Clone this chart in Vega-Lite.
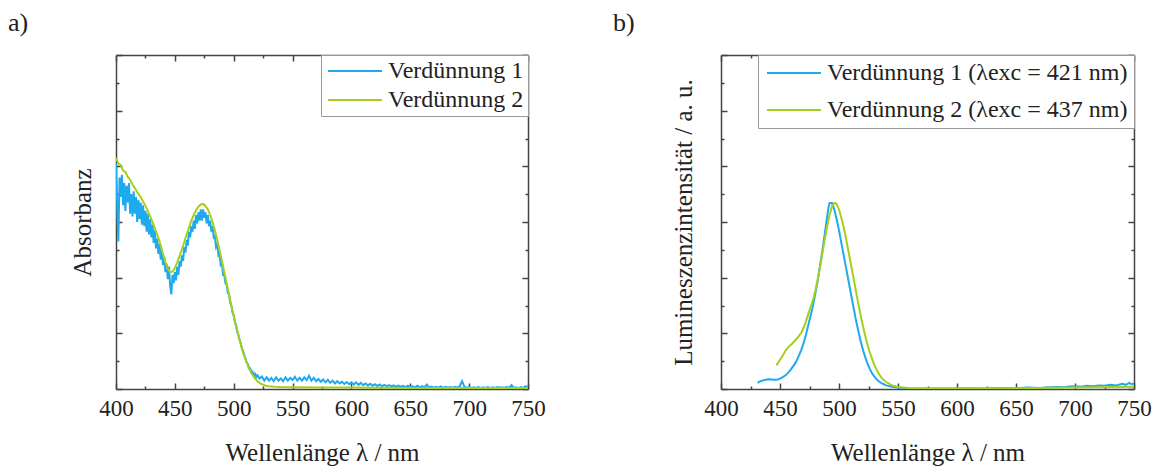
{
"$schema": "https://vega.github.io/schema/vega-lite/v6.json",
"background": "white",
"padding": {"left": 8, "top": 10, "right": 5, "bottom": 5},
"spacing": 193,
"bounds": "flush",
"resolve": {"scale": {"color": "independent"}, "legend": {"color": "independent"}},
"config": {
  "font": "Liberation Serif",
  "view": {"stroke": null},
  "axis": {"domainColor": "#444", "domainWidth": 1.5, "tickColor": "#444", "tickWidth": 1.5, "grid": false,
           "labelFont": "Liberation Serif", "labelFontSize": 23, "labelColor": "#222", "labelFlush": false,
           "titleFont": "Liberation Serif", "titleFontSize": 25, "titleFontWeight": "normal", "titleColor": "#222"},
  "legend": {"orient": "top-right", "offset": 0, "symbolType": "M-3,0H3", "symbolSize": 324, "symbolStrokeWidth": 2,
             "symbolOffset": 18, "labelOffset": 21,
             "labelFont": "Liberation Serif", "labelFontSize": 24, "labelColor": "#222", "labelLimit": 400,
             "strokeColor": "#999", "fillColor": "white", "padding": 4},
  "title": {"font": "Liberation Serif", "fontSize": 26, "fontWeight": "normal", "anchor": "start", "frame": "group", "color": "#222"}
},
"datasets": {
"abs": [
{"wl":400,"v":8.1,"s":"Verdünnung 1"},{"wl":401,"v":6.6,"s":"Verdünnung 1"},{"wl":402,"v":5.3,"s":"Verdünnung 1"},{"wl":403,"v":7.6,"s":"Verdünnung 1"},{"wl":404,"v":6.9,"s":"Verdünnung 1"},{"wl":405,"v":7.7,"s":"Verdünnung 1"},{"wl":406,"v":6.6,"s":"Verdünnung 1"},{"wl":407,"v":7.4,"s":"Verdünnung 1"},{"wl":408,"v":6.4,"s":"Verdünnung 1"},{"wl":409,"v":7.3,"s":"Verdünnung 1"},
{"wl":410,"v":6.7,"s":"Verdünnung 1"},{"wl":411,"v":7.4,"s":"Verdünnung 1"},{"wl":412,"v":6.3,"s":"Verdünnung 1"},{"wl":413,"v":7.0,"s":"Verdünnung 1"},{"wl":414,"v":6.2,"s":"Verdünnung 1"},{"wl":415,"v":7.1,"s":"Verdünnung 1"},{"wl":416,"v":6.3,"s":"Verdünnung 1"},{"wl":417,"v":6.9,"s":"Verdünnung 1"},{"wl":418,"v":6.0,"s":"Verdünnung 1"},{"wl":419,"v":6.8,"s":"Verdünnung 1"},
{"wl":420,"v":6.1,"s":"Verdünnung 1"},{"wl":421,"v":6.7,"s":"Verdünnung 1"},{"wl":422,"v":5.9,"s":"Verdünnung 1"},{"wl":423,"v":6.6,"s":"Verdünnung 1"},{"wl":424,"v":5.85,"s":"Verdünnung 1"},{"wl":425,"v":6.4,"s":"Verdünnung 1"},{"wl":426,"v":5.65,"s":"Verdünnung 1"},{"wl":427,"v":6.3,"s":"Verdünnung 1"},{"wl":428,"v":5.55,"s":"Verdünnung 1"},{"wl":429,"v":6.1,"s":"Verdünnung 1"},
{"wl":430,"v":5.45,"s":"Verdünnung 1"},{"wl":431,"v":5.9,"s":"Verdünnung 1"},{"wl":432,"v":5.25,"s":"Verdünnung 1"},{"wl":433,"v":5.7,"s":"Verdünnung 1"},{"wl":434,"v":5.05,"s":"Verdünnung 1"},{"wl":435,"v":5.4,"s":"Verdünnung 1"},{"wl":436,"v":4.85,"s":"Verdünnung 1"},{"wl":437,"v":5.2,"s":"Verdünnung 1"},{"wl":438,"v":4.65,"s":"Verdünnung 1"},{"wl":439,"v":4.95,"s":"Verdünnung 1"},
{"wl":440,"v":4.45,"s":"Verdünnung 1"},{"wl":441,"v":4.75,"s":"Verdünnung 1"},{"wl":442,"v":4.2,"s":"Verdünnung 1"},{"wl":443,"v":4.5,"s":"Verdünnung 1"},{"wl":444,"v":3.95,"s":"Verdünnung 1"},{"wl":445,"v":4.4,"s":"Verdünnung 1"},{"wl":446,"v":3.7,"s":"Verdünnung 1"},{"wl":447,"v":3.4,"s":"Verdünnung 1"},{"wl":448,"v":4.1,"s":"Verdünnung 1"},{"wl":449,"v":3.8,"s":"Verdünnung 1"},
{"wl":450,"v":4.2,"s":"Verdünnung 1"},{"wl":451,"v":3.9,"s":"Verdünnung 1"},{"wl":452,"v":4.4,"s":"Verdünnung 1"},{"wl":453,"v":4.1,"s":"Verdünnung 1"},{"wl":454,"v":4.6,"s":"Verdünnung 1"},{"wl":455,"v":4.4,"s":"Verdünnung 1"},{"wl":456,"v":4.8,"s":"Verdünnung 1"},{"wl":457,"v":4.6,"s":"Verdünnung 1"},{"wl":458,"v":5.1,"s":"Verdünnung 1"},{"wl":459,"v":4.9,"s":"Verdünnung 1"},
{"wl":460,"v":5.35,"s":"Verdünnung 1"},{"wl":461,"v":5.15,"s":"Verdünnung 1"},{"wl":462,"v":5.65,"s":"Verdünnung 1"},{"wl":463,"v":5.45,"s":"Verdünnung 1"},{"wl":464,"v":5.85,"s":"Verdünnung 1"},{"wl":465,"v":5.65,"s":"Verdünnung 1"},{"wl":466,"v":6.05,"s":"Verdünnung 1"},{"wl":467,"v":5.75,"s":"Verdünnung 1"},{"wl":468,"v":6.25,"s":"Verdünnung 1"},{"wl":469,"v":5.95,"s":"Verdünnung 1"},
{"wl":470,"v":6.35,"s":"Verdünnung 1"},{"wl":471,"v":6.05,"s":"Verdünnung 1"},{"wl":472,"v":6.45,"s":"Verdünnung 1"},{"wl":473,"v":6.05,"s":"Verdünnung 1"},{"wl":474,"v":6.45,"s":"Verdünnung 1"},{"wl":475,"v":6.15,"s":"Verdünnung 1"},{"wl":476,"v":6.35,"s":"Verdünnung 1"},{"wl":477,"v":5.95,"s":"Verdünnung 1"},{"wl":478,"v":6.25,"s":"Verdünnung 1"},{"wl":479,"v":5.85,"s":"Verdünnung 1"},
{"wl":480,"v":6.05,"s":"Verdünnung 1"},{"wl":481,"v":5.65,"s":"Verdünnung 1"},{"wl":482,"v":5.85,"s":"Verdünnung 1"},{"wl":483,"v":5.45,"s":"Verdünnung 1"},{"wl":484,"v":5.5,"s":"Verdünnung 1"},{"wl":485,"v":5.1,"s":"Verdünnung 1"},{"wl":486,"v":5.2,"s":"Verdünnung 1"},{"wl":487,"v":4.8,"s":"Verdünnung 1"},{"wl":488,"v":4.85,"s":"Verdünnung 1"},{"wl":489,"v":4.45,"s":"Verdünnung 1"},
{"wl":490,"v":4.5,"s":"Verdünnung 1"},{"wl":491,"v":4.1,"s":"Verdünnung 1"},{"wl":492,"v":4.1,"s":"Verdünnung 1"},{"wl":493,"v":3.8,"s":"Verdünnung 1"},{"wl":494,"v":3.75,"s":"Verdünnung 1"},{"wl":495,"v":3.45,"s":"Verdünnung 1"},{"wl":496,"v":3.4,"s":"Verdünnung 1"},{"wl":497,"v":3.1,"s":"Verdünnung 1"},{"wl":498,"v":3.0,"s":"Verdünnung 1"},{"wl":499,"v":2.75,"s":"Verdünnung 1"},
{"wl":500,"v":2.65,"s":"Verdünnung 1"},{"wl":501,"v":2.4,"s":"Verdünnung 1"},{"wl":502,"v":2.3,"s":"Verdünnung 1"},{"wl":503,"v":2.05,"s":"Verdünnung 1"},{"wl":504,"v":1.95,"s":"Verdünnung 1"},{"wl":505,"v":1.75,"s":"Verdünnung 1"},{"wl":506,"v":1.65,"s":"Verdünnung 1"},{"wl":507,"v":1.45,"s":"Verdünnung 1"},{"wl":508,"v":1.35,"s":"Verdünnung 1"},{"wl":509,"v":1.2,"s":"Verdünnung 1"},
{"wl":510,"v":1.1,"s":"Verdünnung 1"},{"wl":511,"v":0.95,"s":"Verdünnung 1"},{"wl":512,"v":0.9,"s":"Verdünnung 1"},{"wl":513,"v":0.75,"s":"Verdünnung 1"},{"wl":514,"v":0.75,"s":"Verdünnung 1"},{"wl":515,"v":0.6,"s":"Verdünnung 1"},{"wl":516,"v":0.62,"s":"Verdünnung 1"},{"wl":517,"v":0.5,"s":"Verdünnung 1"},{"wl":518,"v":0.55,"s":"Verdünnung 1"},{"wl":519,"v":0.42,"s":"Verdünnung 1"},
{"wl":520,"v":0.5,"s":"Verdünnung 1"},{"wl":522,"v":0.38,"s":"Verdünnung 1"},{"wl":524,"v":0.45,"s":"Verdünnung 1"},{"wl":526,"v":0.3,"s":"Verdünnung 1"},{"wl":528,"v":0.42,"s":"Verdünnung 1"},{"wl":530,"v":0.3,"s":"Verdünnung 1"},{"wl":532,"v":0.4,"s":"Verdünnung 1"},{"wl":534,"v":0.28,"s":"Verdünnung 1"},{"wl":536,"v":0.42,"s":"Verdünnung 1"},{"wl":538,"v":0.3,"s":"Verdünnung 1"},
{"wl":540,"v":0.38,"s":"Verdünnung 1"},{"wl":542,"v":0.28,"s":"Verdünnung 1"},{"wl":544,"v":0.42,"s":"Verdünnung 1"},{"wl":546,"v":0.3,"s":"Verdünnung 1"},{"wl":548,"v":0.4,"s":"Verdünnung 1"},{"wl":550,"v":0.32,"s":"Verdünnung 1"},{"wl":552,"v":0.44,"s":"Verdünnung 1"},{"wl":554,"v":0.3,"s":"Verdünnung 1"},{"wl":556,"v":0.4,"s":"Verdünnung 1"},{"wl":558,"v":0.3,"s":"Verdünnung 1"},
{"wl":560,"v":0.42,"s":"Verdünnung 1"},{"wl":562,"v":0.32,"s":"Verdünnung 1"},{"wl":564,"v":0.48,"s":"Verdünnung 1"},{"wl":566,"v":0.3,"s":"Verdünnung 1"},{"wl":568,"v":0.4,"s":"Verdünnung 1"},{"wl":570,"v":0.28,"s":"Verdünnung 1"},{"wl":572,"v":0.36,"s":"Verdünnung 1"},{"wl":574,"v":0.26,"s":"Verdünnung 1"},{"wl":576,"v":0.34,"s":"Verdünnung 1"},{"wl":578,"v":0.24,"s":"Verdünnung 1"},
{"wl":580,"v":0.33,"s":"Verdünnung 1"},{"wl":582,"v":0.22,"s":"Verdünnung 1"},{"wl":584,"v":0.3,"s":"Verdünnung 1"},{"wl":586,"v":0.2,"s":"Verdünnung 1"},{"wl":588,"v":0.28,"s":"Verdünnung 1"},{"wl":590,"v":0.2,"s":"Verdünnung 1"},{"wl":592,"v":0.26,"s":"Verdünnung 1"},{"wl":594,"v":0.18,"s":"Verdünnung 1"},{"wl":596,"v":0.25,"s":"Verdünnung 1"},{"wl":598,"v":0.17,"s":"Verdünnung 1"},
{"wl":600,"v":0.24,"s":"Verdünnung 1"},{"wl":602,"v":0.16,"s":"Verdünnung 1"},{"wl":604,"v":0.24,"s":"Verdünnung 1"},{"wl":606,"v":0.15,"s":"Verdünnung 1"},{"wl":608,"v":0.22,"s":"Verdünnung 1"},{"wl":610,"v":0.14,"s":"Verdünnung 1"},{"wl":612,"v":0.2,"s":"Verdünnung 1"},{"wl":614,"v":0.13,"s":"Verdünnung 1"},{"wl":616,"v":0.19,"s":"Verdünnung 1"},{"wl":618,"v":0.12,"s":"Verdünnung 1"},
{"wl":620,"v":0.17,"s":"Verdünnung 1"},{"wl":622,"v":0.11,"s":"Verdünnung 1"},{"wl":624,"v":0.16,"s":"Verdünnung 1"},{"wl":626,"v":0.1,"s":"Verdünnung 1"},{"wl":628,"v":0.15,"s":"Verdünnung 1"},{"wl":630,"v":0.1,"s":"Verdünnung 1"},{"wl":632,"v":0.14,"s":"Verdünnung 1"},{"wl":634,"v":0.09,"s":"Verdünnung 1"},{"wl":636,"v":0.13,"s":"Verdünnung 1"},{"wl":638,"v":0.08,"s":"Verdünnung 1"},
{"wl":640,"v":0.12,"s":"Verdünnung 1"},{"wl":642,"v":0.08,"s":"Verdünnung 1"},{"wl":644,"v":0.11,"s":"Verdünnung 1"},{"wl":646,"v":0.07,"s":"Verdünnung 1"},{"wl":648,"v":0.12,"s":"Verdünnung 1"},{"wl":650,"v":0.07,"s":"Verdünnung 1"},{"wl":652,"v":0.1,"s":"Verdünnung 1"},{"wl":654,"v":0.06,"s":"Verdünnung 1"},{"wl":656,"v":0.12,"s":"Verdünnung 1"},{"wl":658,"v":0.06,"s":"Verdünnung 1"},
{"wl":660,"v":0.1,"s":"Verdünnung 1"},{"wl":662,"v":0.06,"s":"Verdünnung 1"},{"wl":664,"v":0.16,"s":"Verdünnung 1"},{"wl":666,"v":0.06,"s":"Verdünnung 1"},{"wl":668,"v":0.09,"s":"Verdünnung 1"},{"wl":670,"v":0.05,"s":"Verdünnung 1"},{"wl":672,"v":0.08,"s":"Verdünnung 1"},{"wl":674,"v":0.05,"s":"Verdünnung 1"},{"wl":676,"v":0.09,"s":"Verdünnung 1"},{"wl":678,"v":0.04,"s":"Verdünnung 1"},
{"wl":680,"v":0.08,"s":"Verdünnung 1"},{"wl":682,"v":0.05,"s":"Verdünnung 1"},{"wl":684,"v":0.07,"s":"Verdünnung 1"},{"wl":686,"v":0.04,"s":"Verdünnung 1"},{"wl":688,"v":0.08,"s":"Verdünnung 1"},{"wl":690,"v":0.05,"s":"Verdünnung 1"},{"wl":692,"v":0.1,"s":"Verdünnung 1"},{"wl":694,"v":0.28,"s":"Verdünnung 1"},{"wl":696,"v":0.08,"s":"Verdünnung 1"},{"wl":698,"v":0.05,"s":"Verdünnung 1"},
{"wl":700,"v":0.07,"s":"Verdünnung 1"},{"wl":702,"v":0.04,"s":"Verdünnung 1"},{"wl":704,"v":0.06,"s":"Verdünnung 1"},{"wl":706,"v":0.04,"s":"Verdünnung 1"},{"wl":708,"v":0.07,"s":"Verdünnung 1"},{"wl":710,"v":0.03,"s":"Verdünnung 1"},{"wl":712,"v":0.06,"s":"Verdünnung 1"},{"wl":714,"v":0.04,"s":"Verdünnung 1"},{"wl":716,"v":0.07,"s":"Verdünnung 1"},{"wl":718,"v":0.03,"s":"Verdünnung 1"},
{"wl":720,"v":0.06,"s":"Verdünnung 1"},{"wl":722,"v":0.04,"s":"Verdünnung 1"},{"wl":724,"v":0.07,"s":"Verdünnung 1"},{"wl":726,"v":0.03,"s":"Verdünnung 1"},{"wl":728,"v":0.06,"s":"Verdünnung 1"},{"wl":730,"v":0.04,"s":"Verdünnung 1"},{"wl":732,"v":0.08,"s":"Verdünnung 1"},{"wl":734,"v":0.04,"s":"Verdünnung 1"},{"wl":736,"v":0.14,"s":"Verdünnung 1"},{"wl":738,"v":0.04,"s":"Verdünnung 1"},
{"wl":740,"v":0.06,"s":"Verdünnung 1"},{"wl":742,"v":0.03,"s":"Verdünnung 1"},{"wl":744,"v":0.07,"s":"Verdünnung 1"},{"wl":746,"v":0.04,"s":"Verdünnung 1"},{"wl":748,"v":0.1,"s":"Verdünnung 1"},{"wl":750,"v":0.05,"s":"Verdünnung 1"},
{"wl":400,"v":8.3,"s":"Verdünnung 2"},{"wl":402,"v":8.1,"s":"Verdünnung 2"},{"wl":404,"v":8.05,"s":"Verdünnung 2"},{"wl":406,"v":7.85,"s":"Verdünnung 2"},{"wl":408,"v":7.8,"s":"Verdünnung 2"},{"wl":410,"v":7.62,"s":"Verdünnung 2"},{"wl":412,"v":7.52,"s":"Verdünnung 2"},{"wl":414,"v":7.35,"s":"Verdünnung 2"},{"wl":416,"v":7.22,"s":"Verdünnung 2"},{"wl":418,"v":7.08,"s":"Verdünnung 2"},
{"wl":420,"v":6.95,"s":"Verdünnung 2"},{"wl":422,"v":6.82,"s":"Verdünnung 2"},{"wl":424,"v":6.66,"s":"Verdünnung 2"},{"wl":426,"v":6.5,"s":"Verdünnung 2"},{"wl":428,"v":6.3,"s":"Verdünnung 2"},{"wl":430,"v":6.1,"s":"Verdünnung 2"},{"wl":432,"v":5.9,"s":"Verdünnung 2"},{"wl":434,"v":5.66,"s":"Verdünnung 2"},{"wl":436,"v":5.43,"s":"Verdünnung 2"},{"wl":438,"v":5.15,"s":"Verdünnung 2"},
{"wl":440,"v":4.85,"s":"Verdünnung 2"},{"wl":442,"v":4.56,"s":"Verdünnung 2"},{"wl":444,"v":4.32,"s":"Verdünnung 2"},{"wl":446,"v":4.2,"s":"Verdünnung 2"},{"wl":448,"v":4.22,"s":"Verdünnung 2"},{"wl":450,"v":4.35,"s":"Verdünnung 2"},{"wl":452,"v":4.55,"s":"Verdünnung 2"},{"wl":454,"v":4.78,"s":"Verdünnung 2"},{"wl":456,"v":5.02,"s":"Verdünnung 2"},{"wl":458,"v":5.28,"s":"Verdünnung 2"},
{"wl":460,"v":5.55,"s":"Verdünnung 2"},{"wl":462,"v":5.8,"s":"Verdünnung 2"},{"wl":464,"v":6.05,"s":"Verdünnung 2"},{"wl":466,"v":6.25,"s":"Verdünnung 2"},{"wl":468,"v":6.42,"s":"Verdünnung 2"},{"wl":470,"v":6.55,"s":"Verdünnung 2"},{"wl":472,"v":6.63,"s":"Verdünnung 2"},{"wl":474,"v":6.65,"s":"Verdünnung 2"},{"wl":476,"v":6.58,"s":"Verdünnung 2"},{"wl":478,"v":6.45,"s":"Verdünnung 2"},
{"wl":480,"v":6.25,"s":"Verdünnung 2"},{"wl":482,"v":6.0,"s":"Verdünnung 2"},{"wl":484,"v":5.7,"s":"Verdünnung 2"},{"wl":486,"v":5.35,"s":"Verdünnung 2"},{"wl":488,"v":4.98,"s":"Verdünnung 2"},{"wl":490,"v":4.6,"s":"Verdünnung 2"},{"wl":492,"v":4.2,"s":"Verdünnung 2"},{"wl":494,"v":3.8,"s":"Verdünnung 2"},{"wl":496,"v":3.4,"s":"Verdünnung 2"},{"wl":498,"v":3.0,"s":"Verdünnung 2"},
{"wl":500,"v":2.62,"s":"Verdünnung 2"},{"wl":502,"v":2.25,"s":"Verdünnung 2"},{"wl":504,"v":1.92,"s":"Verdünnung 2"},{"wl":506,"v":1.6,"s":"Verdünnung 2"},{"wl":508,"v":1.3,"s":"Verdünnung 2"},{"wl":510,"v":1.05,"s":"Verdünnung 2"},{"wl":512,"v":0.84,"s":"Verdünnung 2"},{"wl":514,"v":0.65,"s":"Verdünnung 2"},{"wl":516,"v":0.5,"s":"Verdünnung 2"},{"wl":518,"v":0.38,"s":"Verdünnung 2"},
{"wl":520,"v":0.29,"s":"Verdünnung 2"},{"wl":522,"v":0.22,"s":"Verdünnung 2"},{"wl":524,"v":0.17,"s":"Verdünnung 2"},{"wl":526,"v":0.14,"s":"Verdünnung 2"},{"wl":528,"v":0.11,"s":"Verdünnung 2"},{"wl":530,"v":0.1,"s":"Verdünnung 2"},{"wl":535,"v":0.08,"s":"Verdünnung 2"},{"wl":540,"v":0.07,"s":"Verdünnung 2"},{"wl":550,"v":0.06,"s":"Verdünnung 2"},{"wl":575,"v":0.05,"s":"Verdünnung 2"},
{"wl":600,"v":0.05,"s":"Verdünnung 2"},{"wl":650,"v":0.04,"s":"Verdünnung 2"},{"wl":700,"v":0.04,"s":"Verdünnung 2"},{"wl":750,"v":0.04,"s":"Verdünnung 2"}
],
"lum": [
{"wl":431,"v":0.22,"s":"Verdünnung 1 (λexc = 421 nm)"},{"wl":433,"v":0.27,"s":"Verdünnung 1 (λexc = 421 nm)"},{"wl":435,"v":0.3,"s":"Verdünnung 1 (λexc = 421 nm)"},{"wl":437,"v":0.32,"s":"Verdünnung 1 (λexc = 421 nm)"},{"wl":440,"v":0.35,"s":"Verdünnung 1 (λexc = 421 nm)"},{"wl":443,"v":0.34,"s":"Verdünnung 1 (λexc = 421 nm)"},{"wl":446,"v":0.33,"s":"Verdünnung 1 (λexc = 421 nm)"},{"wl":448,"v":0.34,"s":"Verdünnung 1 (λexc = 421 nm)"},{"wl":450,"v":0.37,"s":"Verdünnung 1 (λexc = 421 nm)"},{"wl":452,"v":0.42,"s":"Verdünnung 1 (λexc = 421 nm)"},
{"wl":455,"v":0.5,"s":"Verdünnung 1 (λexc = 421 nm)"},{"wl":458,"v":0.63,"s":"Verdünnung 1 (λexc = 421 nm)"},{"wl":460,"v":0.75,"s":"Verdünnung 1 (λexc = 421 nm)"},{"wl":463,"v":0.93,"s":"Verdünnung 1 (λexc = 421 nm)"},{"wl":465,"v":1.1,"s":"Verdünnung 1 (λexc = 421 nm)"},{"wl":468,"v":1.4,"s":"Verdünnung 1 (λexc = 421 nm)"},{"wl":470,"v":1.65,"s":"Verdünnung 1 (λexc = 421 nm)"},{"wl":472,"v":1.95,"s":"Verdünnung 1 (λexc = 421 nm)"},{"wl":474,"v":2.3,"s":"Verdünnung 1 (λexc = 421 nm)"},{"wl":476,"v":2.65,"s":"Verdünnung 1 (λexc = 421 nm)"},
{"wl":478,"v":3.0,"s":"Verdünnung 1 (λexc = 421 nm)"},{"wl":480,"v":3.45,"s":"Verdünnung 1 (λexc = 421 nm)"},{"wl":482,"v":3.9,"s":"Verdünnung 1 (λexc = 421 nm)"},{"wl":484,"v":4.45,"s":"Verdünnung 1 (λexc = 421 nm)"},{"wl":486,"v":5.0,"s":"Verdünnung 1 (λexc = 421 nm)"},{"wl":488,"v":5.6,"s":"Verdünnung 1 (λexc = 421 nm)"},{"wl":490,"v":6.2,"s":"Verdünnung 1 (λexc = 421 nm)"},{"wl":491,"v":6.5,"s":"Verdünnung 1 (λexc = 421 nm)"},{"wl":492,"v":6.68,"s":"Verdünnung 1 (λexc = 421 nm)"},{"wl":494,"v":6.68,"s":"Verdünnung 1 (λexc = 421 nm)"},
{"wl":496,"v":6.45,"s":"Verdünnung 1 (λexc = 421 nm)"},{"wl":498,"v":6.1,"s":"Verdünnung 1 (λexc = 421 nm)"},{"wl":500,"v":5.7,"s":"Verdünnung 1 (λexc = 421 nm)"},{"wl":502,"v":5.25,"s":"Verdünnung 1 (λexc = 421 nm)"},{"wl":504,"v":4.8,"s":"Verdünnung 1 (λexc = 421 nm)"},{"wl":506,"v":4.35,"s":"Verdünnung 1 (λexc = 421 nm)"},{"wl":508,"v":3.9,"s":"Verdünnung 1 (λexc = 421 nm)"},{"wl":510,"v":3.45,"s":"Verdünnung 1 (λexc = 421 nm)"},{"wl":512,"v":3.0,"s":"Verdünnung 1 (λexc = 421 nm)"},{"wl":514,"v":2.55,"s":"Verdünnung 1 (λexc = 421 nm)"},
{"wl":516,"v":2.15,"s":"Verdünnung 1 (λexc = 421 nm)"},{"wl":518,"v":1.78,"s":"Verdünnung 1 (λexc = 421 nm)"},{"wl":520,"v":1.45,"s":"Verdünnung 1 (λexc = 421 nm)"},{"wl":522,"v":1.17,"s":"Verdünnung 1 (λexc = 421 nm)"},{"wl":524,"v":0.93,"s":"Verdünnung 1 (λexc = 421 nm)"},{"wl":526,"v":0.73,"s":"Verdünnung 1 (λexc = 421 nm)"},{"wl":528,"v":0.57,"s":"Verdünnung 1 (λexc = 421 nm)"},{"wl":530,"v":0.44,"s":"Verdünnung 1 (λexc = 421 nm)"},{"wl":532,"v":0.34,"s":"Verdünnung 1 (λexc = 421 nm)"},{"wl":534,"v":0.27,"s":"Verdünnung 1 (λexc = 421 nm)"},
{"wl":536,"v":0.21,"s":"Verdünnung 1 (λexc = 421 nm)"},{"wl":538,"v":0.17,"s":"Verdünnung 1 (λexc = 421 nm)"},{"wl":540,"v":0.13,"s":"Verdünnung 1 (λexc = 421 nm)"},{"wl":545,"v":0.08,"s":"Verdünnung 1 (λexc = 421 nm)"},{"wl":550,"v":0.05,"s":"Verdünnung 1 (λexc = 421 nm)"},{"wl":555,"v":0.04,"s":"Verdünnung 1 (λexc = 421 nm)"},{"wl":560,"v":0.03,"s":"Verdünnung 1 (λexc = 421 nm)"},{"wl":570,"v":0.02,"s":"Verdünnung 1 (λexc = 421 nm)"},{"wl":580,"v":0.02,"s":"Verdünnung 1 (λexc = 421 nm)"},{"wl":590,"v":0.02,"s":"Verdünnung 1 (λexc = 421 nm)"},
{"wl":600,"v":0.02,"s":"Verdünnung 1 (λexc = 421 nm)"},{"wl":610,"v":0.03,"s":"Verdünnung 1 (λexc = 421 nm)"},{"wl":620,"v":0.02,"s":"Verdünnung 1 (λexc = 421 nm)"},{"wl":630,"v":0.03,"s":"Verdünnung 1 (λexc = 421 nm)"},{"wl":640,"v":0.04,"s":"Verdünnung 1 (λexc = 421 nm)"},{"wl":650,"v":0.03,"s":"Verdünnung 1 (λexc = 421 nm)"},{"wl":660,"v":0.05,"s":"Verdünnung 1 (λexc = 421 nm)"},{"wl":670,"v":0.04,"s":"Verdünnung 1 (λexc = 421 nm)"},{"wl":680,"v":0.06,"s":"Verdünnung 1 (λexc = 421 nm)"},{"wl":685,"v":0.07,"s":"Verdünnung 1 (λexc = 421 nm)"},
{"wl":690,"v":0.06,"s":"Verdünnung 1 (λexc = 421 nm)"},{"wl":695,"v":0.09,"s":"Verdünnung 1 (λexc = 421 nm)"},{"wl":700,"v":0.1,"s":"Verdünnung 1 (λexc = 421 nm)"},{"wl":705,"v":0.08,"s":"Verdünnung 1 (λexc = 421 nm)"},{"wl":710,"v":0.12,"s":"Verdünnung 1 (λexc = 421 nm)"},{"wl":715,"v":0.1,"s":"Verdünnung 1 (λexc = 421 nm)"},{"wl":720,"v":0.13,"s":"Verdünnung 1 (λexc = 421 nm)"},{"wl":725,"v":0.12,"s":"Verdünnung 1 (λexc = 421 nm)"},{"wl":730,"v":0.15,"s":"Verdünnung 1 (λexc = 421 nm)"},{"wl":735,"v":0.13,"s":"Verdünnung 1 (λexc = 421 nm)"},
{"wl":740,"v":0.19,"s":"Verdünnung 1 (λexc = 421 nm)"},{"wl":743,"v":0.15,"s":"Verdünnung 1 (λexc = 421 nm)"},{"wl":746,"v":0.22,"s":"Verdünnung 1 (λexc = 421 nm)"},{"wl":748,"v":0.17,"s":"Verdünnung 1 (λexc = 421 nm)"},{"wl":750,"v":0.2,"s":"Verdünnung 1 (λexc = 421 nm)"},
{"wl":447,"v":0.85,"s":"Verdünnung 2 (λexc = 437 nm)"},{"wl":450,"v":1.05,"s":"Verdünnung 2 (λexc = 437 nm)"},{"wl":453,"v":1.25,"s":"Verdünnung 2 (λexc = 437 nm)"},{"wl":455,"v":1.4,"s":"Verdünnung 2 (λexc = 437 nm)"},{"wl":458,"v":1.55,"s":"Verdünnung 2 (λexc = 437 nm)"},{"wl":460,"v":1.62,"s":"Verdünnung 2 (λexc = 437 nm)"},{"wl":463,"v":1.75,"s":"Verdünnung 2 (λexc = 437 nm)"},{"wl":465,"v":1.85,"s":"Verdünnung 2 (λexc = 437 nm)"},{"wl":468,"v":2.02,"s":"Verdünnung 2 (λexc = 437 nm)"},{"wl":470,"v":2.2,"s":"Verdünnung 2 (λexc = 437 nm)"},
{"wl":472,"v":2.43,"s":"Verdünnung 2 (λexc = 437 nm)"},{"wl":474,"v":2.7,"s":"Verdünnung 2 (λexc = 437 nm)"},{"wl":476,"v":2.95,"s":"Verdünnung 2 (λexc = 437 nm)"},{"wl":478,"v":3.2,"s":"Verdünnung 2 (λexc = 437 nm)"},{"wl":480,"v":3.55,"s":"Verdünnung 2 (λexc = 437 nm)"},{"wl":482,"v":3.95,"s":"Verdünnung 2 (λexc = 437 nm)"},{"wl":484,"v":4.4,"s":"Verdünnung 2 (λexc = 437 nm)"},{"wl":486,"v":4.9,"s":"Verdünnung 2 (λexc = 437 nm)"},{"wl":488,"v":5.4,"s":"Verdünnung 2 (λexc = 437 nm)"},{"wl":490,"v":5.85,"s":"Verdünnung 2 (λexc = 437 nm)"},
{"wl":492,"v":6.25,"s":"Verdünnung 2 (λexc = 437 nm)"},{"wl":494,"v":6.55,"s":"Verdünnung 2 (λexc = 437 nm)"},{"wl":496,"v":6.68,"s":"Verdünnung 2 (λexc = 437 nm)"},{"wl":498,"v":6.65,"s":"Verdünnung 2 (λexc = 437 nm)"},{"wl":500,"v":6.45,"s":"Verdünnung 2 (λexc = 437 nm)"},{"wl":502,"v":6.15,"s":"Verdünnung 2 (λexc = 437 nm)"},{"wl":504,"v":5.8,"s":"Verdünnung 2 (λexc = 437 nm)"},{"wl":506,"v":5.4,"s":"Verdünnung 2 (λexc = 437 nm)"},{"wl":508,"v":4.95,"s":"Verdünnung 2 (λexc = 437 nm)"},{"wl":510,"v":4.5,"s":"Verdünnung 2 (λexc = 437 nm)"},
{"wl":512,"v":4.05,"s":"Verdünnung 2 (λexc = 437 nm)"},{"wl":514,"v":3.6,"s":"Verdünnung 2 (λexc = 437 nm)"},{"wl":516,"v":3.15,"s":"Verdünnung 2 (λexc = 437 nm)"},{"wl":518,"v":2.72,"s":"Verdünnung 2 (λexc = 437 nm)"},{"wl":520,"v":2.32,"s":"Verdünnung 2 (λexc = 437 nm)"},{"wl":522,"v":1.95,"s":"Verdünnung 2 (λexc = 437 nm)"},{"wl":524,"v":1.62,"s":"Verdünnung 2 (λexc = 437 nm)"},{"wl":526,"v":1.33,"s":"Verdünnung 2 (λexc = 437 nm)"},{"wl":528,"v":1.08,"s":"Verdünnung 2 (λexc = 437 nm)"},{"wl":530,"v":0.86,"s":"Verdünnung 2 (λexc = 437 nm)"},
{"wl":532,"v":0.68,"s":"Verdünnung 2 (λexc = 437 nm)"},{"wl":534,"v":0.53,"s":"Verdünnung 2 (λexc = 437 nm)"},{"wl":536,"v":0.41,"s":"Verdünnung 2 (λexc = 437 nm)"},{"wl":538,"v":0.32,"s":"Verdünnung 2 (λexc = 437 nm)"},{"wl":540,"v":0.25,"s":"Verdünnung 2 (λexc = 437 nm)"},{"wl":545,"v":0.13,"s":"Verdünnung 2 (λexc = 437 nm)"},{"wl":550,"v":0.07,"s":"Verdünnung 2 (λexc = 437 nm)"},{"wl":555,"v":0.05,"s":"Verdünnung 2 (λexc = 437 nm)"},{"wl":560,"v":0.03,"s":"Verdünnung 2 (λexc = 437 nm)"},{"wl":580,"v":0.02,"s":"Verdünnung 2 (λexc = 437 nm)"},
{"wl":600,"v":0.02,"s":"Verdünnung 2 (λexc = 437 nm)"},{"wl":650,"v":0.03,"s":"Verdünnung 2 (λexc = 437 nm)"},{"wl":700,"v":0.05,"s":"Verdünnung 2 (λexc = 437 nm)"},{"wl":750,"v":0.08,"s":"Verdünnung 2 (λexc = 437 nm)"}
]
},
"hconcat": [
{
 "width": 412, "height": 334,
 "title": {"text": "a)", "dx": -108, "offset": 18},
 "data": {"name": "abs"},
 "layer": [
  {"mark": {"type": "line", "strokeWidth": 2, "clip": true},
   "encoding": {
    "x": {"field": "wl", "type": "quantitative", "scale": {"domain": [400, 750], "nice": false},
          "axis": {"orient": "bottom", "values": [400,425,450,475,500,525,550,575,600,625,650,675,700,725,750],
                   "labelExpr": "datum.value % 50 === 0 ? datum.label : ''",
                   "tickSize": {"condition": {"test": "datum.value % 50 === 0", "value": -6}, "value": -3},
                   "labelPadding": 14, "title": "Wellenlänge λ / nm", "titlePadding": 20}},
    "y": {"field": "v", "type": "quantitative", "scale": {"domain": [0, 12], "nice": false},
          "axis": {"orient": "left", "values": [0,1,2,3,4,5,6,7,8,9,10,11,12], "labels": false,
                   "tickSize": {"condition": {"test": "datum.value % 2 === 0", "value": -6}, "value": -3},
                   "title": "Absorbanz", "titlePadding": 20}},
    "color": {"field": "s", "type": "nominal",
              "scale": {"domain": ["Verdünnung 1", "Verdünnung 2"], "range": ["#1fa9ef", "#a5cf1d"]},
              "legend": {"title": null, "rowPadding": 5, "orient": "top-right", "labelFont": "Liberation Serif", "padding": 4}}
   }},
  {"mark": {"type": "line", "opacity": 0},
   "encoding": {
    "x": {"field": "wl", "type": "quantitative",
          "axis": {"orient": "top", "values": [400,425,450,475,500,525,550,575,600,625,650,675,700,725,750], "labels": false, "title": null,
                   "tickSize": {"condition": {"test": "datum.value % 50 === 0", "value": -6}, "value": -3}}},
    "y": {"field": "v", "type": "quantitative",
          "axis": {"orient": "right", "values": [0,1,2,3,4,5,6,7,8,9,10,11,12], "labels": false, "title": null,
                   "tickSize": {"condition": {"test": "datum.value % 2 === 0", "value": -6}, "value": -3}}},
    "detail": {"field": "s"}
   }}
 ],
 "resolve": {"axis": {"x": "independent", "y": "independent"}}
},
{
 "width": 413, "height": 334,
 "title": {"text": "b)", "dx": -108, "offset": 18},
 "data": {"name": "lum"},
 "layer": [
  {"mark": {"type": "line", "strokeWidth": 2, "clip": true},
   "encoding": {
    "x": {"field": "wl", "type": "quantitative", "scale": {"domain": [400, 750], "nice": false},
          "axis": {"orient": "bottom", "values": [400,425,450,475,500,525,550,575,600,625,650,675,700,725,750],
                   "labelExpr": "datum.value % 50 === 0 ? datum.label : ''",
                   "tickSize": {"condition": {"test": "datum.value % 50 === 0", "value": -6}, "value": -3},
                   "labelPadding": 14, "title": "Wellenlänge λ / nm", "titlePadding": 20}},
    "y": {"field": "v", "type": "quantitative", "scale": {"domain": [0, 12], "nice": false},
          "axis": {"orient": "left", "values": [0,1,2,3,4,5,6,7,8,9,10,11,12], "labels": false,
                   "tickSize": {"condition": {"test": "datum.value % 2 === 0", "value": -6}, "value": -3},
                   "title": "Lumineszenzintensität / a. u.", "titlePadding": 24}},
    "color": {"field": "s", "type": "nominal",
              "scale": {"domain": ["Verdünnung 1 (λexc = 421 nm)", "Verdünnung 2 (λexc = 437 nm)"], "range": ["#1fa9ef", "#a5cf1d"]},
              "legend": {"title": null, "rowPadding": 13, "orient": "top-right", "labelFont": "Liberation Serif", "padding": 6}}
   }},
  {"mark": {"type": "line", "opacity": 0},
   "encoding": {
    "x": {"field": "wl", "type": "quantitative",
          "axis": {"orient": "top", "values": [400,425,450,475,500,525,550,575,600,625,650,675,700,725,750], "labels": false, "title": null,
                   "tickSize": {"condition": {"test": "datum.value % 50 === 0", "value": -6}, "value": -3}}},
    "y": {"field": "v", "type": "quantitative",
          "axis": {"orient": "right", "values": [0,1,2,3,4,5,6,7,8,9,10,11,12], "labels": false, "title": null,
                   "tickSize": {"condition": {"test": "datum.value % 2 === 0", "value": -6}, "value": -3}}},
    "detail": {"field": "s"}
   }}
 ],
 "resolve": {"axis": {"x": "independent", "y": "independent"}}
}
]
}
